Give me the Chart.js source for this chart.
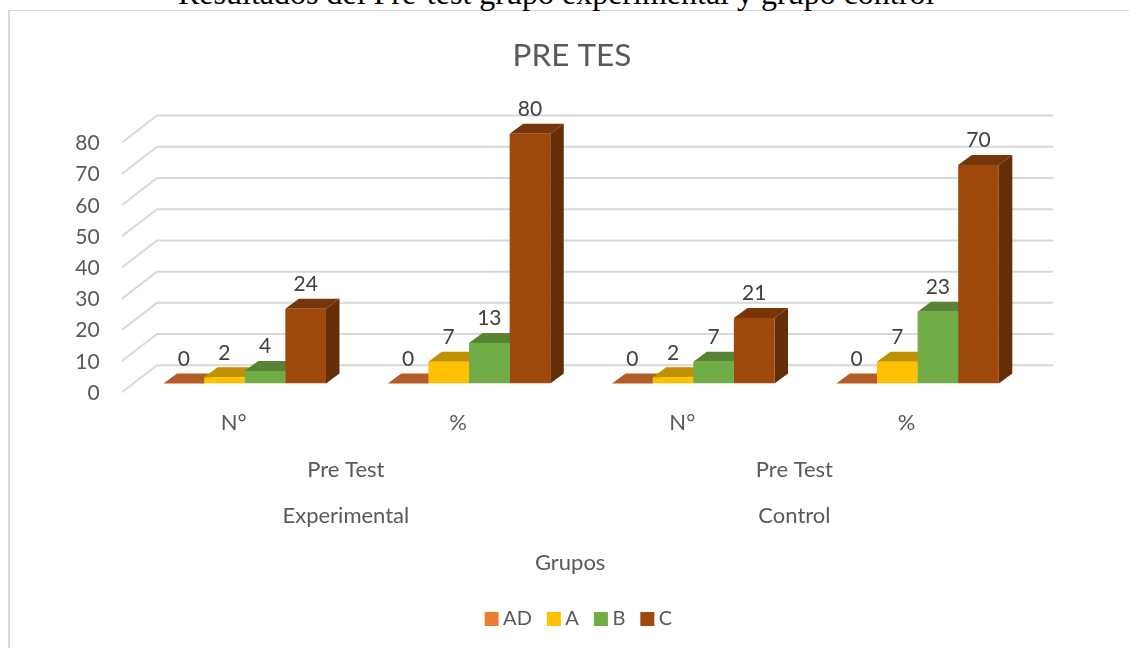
<!DOCTYPE html>
<html lang="es">
<head>
<meta charset="utf-8">
<title>PRE TES</title>
<script src="https://cdn.jsdelivr.net/npm/chart.js@4"></script>
<style>
  html, body { margin: 0; height: 100%; overflow: hidden; background: #fff; }
  #frame { position: absolute; left: 8px; top: 10px; right: 0; bottom: 0; border-left: 2px solid #d9d9d9; border-top: 1px solid #d9d9d9; }
  #caption { position: absolute; left: 178px; top: -25px; font: 32px "Liberation Serif", serif; color: #000; white-space: nowrap; }
  canvas { position: absolute; left: 0; top: 0; }
</style>
</head>
<body>
<div id="frame"></div>
<div id="caption">Resultados del Pre-test grupo experimental y grupo control</div>
<canvas id="chart" width="1129" height="648"></canvas>
<script>
const categories = ['N°', '%', 'N°', '%']
const testLabels = ['Pre Test', 'Pre Test']
const groupLabels = ['Experimental', 'Control']
const axisLabel = ['Grupos']
const yMax = 80

const valuesAD = [0, 0, 0, 0]
const valuesA = [2, 7, 2, 7]
const valuesB = [4, 13, 7, 23]
const valuesC = [24, 80, 21, 70]

const FONT = 'Lato, sans-serif'
const TOP_COLORS = ['#b55b25', '#c09100', '#578434', '#763609']
const SIDE_COLORS = ['#8f4a1c', '#997400', '#466b2b', '#662e07']

// fake 3D: walls and bar depth are drawn around the real bars
const BAR_DX = 13.5, BAR_DY = -10
const WALL_BACK_DY = -18.3, WALL_FRONT_DY = 8.7
const WALL_LEFT = 122, WALL_RIGHT = 1053

function poly(ctx, color, pts) {
  ctx.fillStyle = color
  ctx.beginPath()
  pts.forEach((p, i) => i ? ctx.lineTo(p[0], p[1]) : ctx.moveTo(p[0], p[1]))
  ctx.closePath()
  ctx.fill()
}

const depth3d = {
  id: 'depth3d',
  beforeDatasetsDraw(chart) {
    const { ctx, scales } = chart
    ctx.save()
    ctx.strokeStyle = '#d9d9d9'
    ctx.lineWidth = 2
    scales.y.ticks.forEach(t => {
      const py = scales.y.getPixelForValue(t.value)
      const back = py + WALL_BACK_DY
      ctx.beginPath()
      ctx.moveTo(WALL_LEFT, py + WALL_FRONT_DY)
      ctx.lineTo(WALL_LEFT + 35, back)
      ctx.lineTo(WALL_RIGHT, back)
      ctx.stroke()
    })
    chart.data.datasets.forEach((ds, i) => {
      chart.getDatasetMeta(i).data.forEach(bar => {
        const l = bar.x - bar.width / 2, r = bar.x + bar.width / 2
        poly(ctx, SIDE_COLORS[i], [[r, bar.y], [r + BAR_DX, bar.y + BAR_DY], [r + BAR_DX, bar.base + BAR_DY], [r, bar.base]])
        poly(ctx, TOP_COLORS[i], [[l, bar.y], [l + BAR_DX, bar.y + BAR_DY], [r + BAR_DX, bar.y + BAR_DY], [r, bar.y]])
      })
    })
    ctx.restore()
  },
  afterDatasetsDraw(chart) {
    const { ctx } = chart
    ctx.save()
    ctx.fillStyle = '#404040'
    ctx.font = '21px ' + FONT
    ctx.textAlign = 'center'
    ctx.textBaseline = 'middle'
    chart.data.datasets.forEach((ds, i) => {
      chart.getDatasetMeta(i).data.forEach((bar, j) => {
        ctx.fillText(ds.data[j], bar.x, bar.y - 24.5)
      })
    })
    ctx.restore()
  },
}

// labels get clipped to the axis box, so each height has to hold its label
function rowAxis(labels, weight, height, padding) {
  return {
    type: 'category',
    labels,
    offset: true,
    weight,
    position: 'bottom',
    grid: { display: false, drawTicks: false },
    border: { display: false },
    ticks: {
      color: '#595959',
      font: { family: FONT, size: 22 },
      padding,
      labelOffset: -11,
      autoSkip: false,
      maxRotation: 0,
    },
    afterFit: scale => { scale.height = height },
  }
}

new Chart(document.getElementById('chart'), {
  type: 'bar',
  data: {
    labels: categories,
    datasets: [
      { label: 'AD', data: valuesAD, backgroundColor: '#ed7d31' },
      { label: 'A', data: valuesA, backgroundColor: '#ffc000' },
      { label: 'B', data: valuesB, backgroundColor: '#70ad47' },
      { label: 'C', data: valuesC, backgroundColor: '#9e480e' },
    ],
  },
  plugins: [depth3d],
  options: {
    responsive: false,
    animation: false,
    datasets: { bar: { barPercentage: 1, categoryPercentage: 0.7245 } },
    layout: { padding: { left: 15, bottom: 9 } },
    plugins: {
      tooltip: { enabled: false },
      title: {
        display: true,
        text: 'PRE TES',
        color: '#595959',
        font: { family: FONT, size: 31.5, weight: 'normal' },
        padding: { top: 37, bottom: 59 },
      },
      legend: {
        position: 'bottom',
        fullSize: false,
        labels: {
          color: '#595959',
          font: { family: FONT, size: 20 },
          usePointStyle: true,
          pointStyle: 'rect',
          boxWidth: 3,
          boxHeight: 14,
          padding: 20.5,
        },
      },
    },
    scales: {
      x: rowAxis(categories, 1, 53, 26),
      x2: rowAxis(testLabels, 2, 48, 20),
      x3: rowAxis(groupLabels, 3, 46, 18),
      x4: rowAxis(axisLabel, 4, 57.9, 19),
      y: {
        min: 0,
        max: yMax,
        grid: { display: false, drawTicks: false },
        border: { display: false },
        ticks: {
          stepSize: 10,
          color: '#595959',
          font: { family: FONT, size: 21 },
          padding: 33,
          labelOffset: 9.5,
        },
        afterFit: scale => { scale.width = 117.6 },
      },
      // empty axis, only reserves the space to the right of the plot
      yRight: {
        position: 'right',
        grid: { display: false, drawTicks: false },
        border: { display: false },
        ticks: { display: false },
        afterFit: scale => { scale.width = 99.3 },
      },
    },
  },
})
</script>
</body>
</html>
